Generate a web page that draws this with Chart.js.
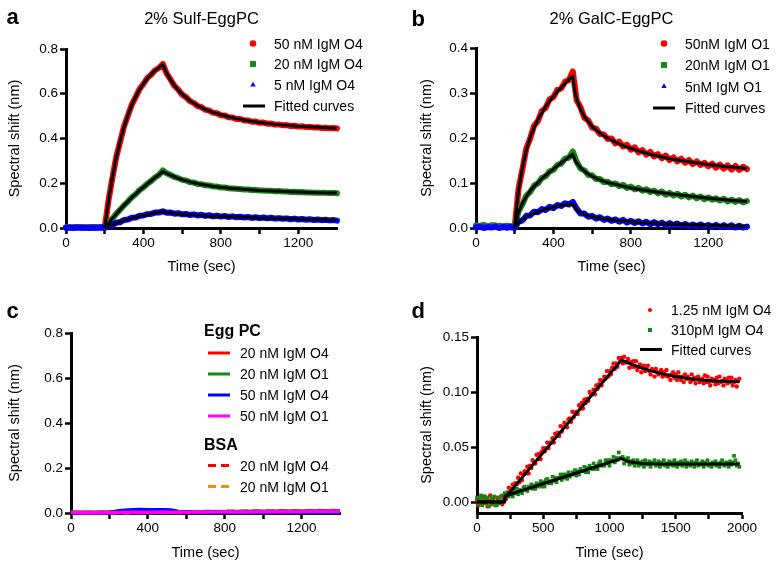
<!DOCTYPE html>
<html><head><meta charset="utf-8">
<script src="https://cdn.jsdelivr.net/npm/chart.js@4.4.0/dist/chart.umd.min.js"></script>
<style>
html,body{margin:0;padding:0;background:#fff;width:779px;height:567px;overflow:hidden}
canvas{position:absolute}
</style></head><body>
<canvas id="ca"></canvas><canvas id="cb"></canvas><canvas id="cc"></canvas><canvas id="cd"></canvas>
<script>
// ---------- time bases (sec) ----------
const timeAB = [0,20,40,60,80,100,120,140,160,180,200,220,240,260,280,300,320,340,360,380,400,420,440,460,480,500,520,540,560,580,600,620,640,660,680,700,720,740,760,780,800,820,840,860,880,900,920,940,960,980,1000,1020,1040,1060,1080,1100,1120,1140,1160,1180,1200,1220,1240,1260,1280,1300,1320,1340,1360,1380,1400];
const timeC = [0,40,80,120,160,200,240,280,320,360,400,440,480,520,560,600,640,680,720,760,800,840,880,920,960,1000,1040,1080,1120,1160,1200,1240,1280,1320,1360,1400];
const timeD = [0,10,20,30,40,50,60,70,80,90,100,110,120,130,140,150,160,170,180,190,200,
 210,220,230,240,250,260,270,280,290,300,310,320,330,340,350,360,370,380,390,400,
 410,420,430,440,450,460,470,480,490,500,510,520,530,540,550,560,570,580,590,600,
 610,620,630,640,650,660,670,680,690,700,710,720,730,740,750,760,770,780,790,800,
 810,820,830,840,850,860,870,880,890,900,910,920,930,940,950,960,970,980,990,1000,
 1010,1020,1030,1040,1050,1060,1070,1080,1090,1100,1110,1120,1130,1140,1150,1160,1170,1180,1190,1200,
 1210,1220,1230,1240,1250,1260,1270,1280,1290,1300,1310,1320,1330,1340,1350,1360,1370,1380,1390,1400,
 1410,1420,1430,1440,1450,1460,1470,1480,1490,1500,1510,1520,1530,1540,1550,1560,1570,1580,1590,1600,
 1610,1620,1630,1640,1650,1660,1670,1680,1690,1700,1710,1720,1730,1740,1750,1760,1770,1780,1790,1800,
 1810,1820,1830,1840,1850,1860,1870,1880,1890,1900,1910,1920,1930,1940,1950,1960,1970,1980];

// ---------- panel a: 2% Sulf-EggPC ----------
const labelsA = ['50 nM IgM O4','20 nM IgM O4','5 nM IgM O4','Fitted curves'];
const a50 = [0.003,0.001,0.004,0.002,0.003,0.001,0.004,0.002,0.003,0.002,
 0.001,0.126,0.226,0.318,0.387,0.455,0.503,0.552,0.585,0.621,
 0.644,0.670,0.685,0.705,0.715,0.733,0.690,0.664,0.635,0.618,
 0.596,0.585,0.567,0.559,0.545,0.540,0.528,0.525,0.515,0.513,
 0.504,0.503,0.495,0.494,0.487,0.487,0.481,0.481,0.475,0.476,
 0.470,0.471,0.466,0.467,0.462,0.463,0.459,0.460,0.456,0.457,
 0.453,0.455,0.451,0.452,0.449,0.450,0.447,0.448,0.446,0.447,0.445];
const a20 = [0.002,0.003,0.001,0.002,0.003,0.002,0.001,0.003,0.002,0.002,
 0.001,0.023,0.042,0.064,0.082,0.102,0.118,0.137,0.151,0.169,
 0.182,0.198,0.210,0.226,0.237,0.257,0.245,0.237,0.228,0.223,
 0.215,0.212,0.205,0.203,0.197,0.196,0.191,0.190,0.186,0.185,
 0.181,0.181,0.178,0.177,0.175,0.174,0.172,0.172,0.170,0.170,
 0.168,0.168,0.166,0.166,0.164,0.165,0.163,0.163,0.161,0.162,
 0.160,0.161,0.159,0.159,0.158,0.158,0.157,0.157,0.156,0.157,0.155];
const a5 = [0.001,0.002,0.000,0.003,0.001,0.002,0.000,0.002,0.001,0.003,
 0.001,0.010,0.013,0.024,0.026,0.036,0.038,0.046,0.047,0.055,
 0.056,0.062,0.063,0.069,0.069,0.075,0.068,0.069,0.064,0.066,
 0.061,0.063,0.058,0.061,0.056,0.059,0.054,0.057,0.052,0.055,
 0.051,0.054,0.049,0.052,0.048,0.050,0.047,0.049,0.045,0.048,
 0.044,0.047,0.043,0.046,0.042,0.044,0.041,0.043,0.039,0.042,
 0.038,0.040,0.037,0.039,0.036,0.038,0.035,0.037,0.034,0.036,0.033];
const fitTimeA = [200,220,240,260,280,300,320,340,360,380,400,420,440,460,480,500,520,540,560,580,600,640,680,720,760,800,850,900,950,1000,1100,1200,1300,1400];
const fitA50 = [0,0.124,0.228,0.316,0.389,0.452,0.505,0.550,0.587,0.619,0.646,0.668,0.687,0.703,0.717,0.730,0.692,0.662,0.637,0.616,0.598,0.569,0.547,0.530,0.517,0.506,0.495,0.486,0.478,0.472,0.462,0.455,0.450,0.446];
const fitA20 = [0,0.022,0.043,0.063,0.083,0.101,0.119,0.136,0.152,0.168,0.183,0.197,0.211,0.225,0.238,0.252,0.244,0.236,0.229,0.222,0.216,0.206,0.198,0.192,0.186,0.182,0.178,0.174,0.171,0.168,0.164,0.161,0.158,0.156];
const fitA5 = [0,0.008,0.015,0.022,0.028,0.034,0.039,0.044,0.049,0.053,0.057,0.060,0.064,0.067,0.070,0.072,0.069,0.067,0.065,0.063,0.062,0.059,0.057,0.055,0.053,0.052,0.050,0.048,0.047,0.045,0.043,0.040,0.037,0.035];

// ---------- panel b: 2% GalC-EggPC ----------
const labelsB = ['50nM IgM O1','20nM IgM O1','5nM IgM O1','Fitted curves'];
const b50 = [0.002,0.005,0.001,0.004,0.006,0.002,0.005,0.003,0.001,0.004,
 0.003,0.088,0.131,0.177,0.199,0.227,0.238,0.260,0.267,0.286,
 0.291,0.307,0.310,0.325,0.329,0.348,0.284,0.268,0.245,0.239,
 0.223,0.221,0.209,0.208,0.198,0.199,0.188,0.192,0.181,0.185,
 0.174,0.179,0.168,0.173,0.163,0.169,0.159,0.164,0.155,0.161,
 0.151,0.157,0.148,0.154,0.145,0.151,0.142,0.148,0.140,0.145,
 0.137,0.143,0.134,0.141,0.132,0.139,0.130,0.138,0.129,0.136,0.131];
const b20 = [0.006,0.004,0.007,0.003,0.005,0.006,0.002,0.004,0.005,0.003,
 0.004,0.037,0.053,0.072,0.080,0.094,0.099,0.111,0.115,0.126,
 0.129,0.140,0.143,0.154,0.156,0.170,0.147,0.132,0.128,0.118,
 0.117,0.109,0.109,0.102,0.103,0.097,0.099,0.093,0.096,0.089,
 0.092,0.086,0.089,0.083,0.086,0.080,0.083,0.077,0.081,0.074,
 0.078,0.072,0.076,0.070,0.074,0.068,0.072,0.066,0.070,0.064,
 0.068,0.063,0.066,0.061,0.065,0.059,0.063,0.058,0.062,0.057,0.060];
const b5 = [0.001,0.003,0.000,0.002,0.001,0.003,0.000,0.002,0.001,0.002,
 0.000,0.014,0.017,0.027,0.028,0.036,0.035,0.042,0.040,0.047,
 0.044,0.051,0.049,0.055,0.052,0.058,0.043,0.032,0.032,0.025,
 0.027,0.021,0.024,0.018,0.021,0.016,0.019,0.014,0.018,0.012,
 0.016,0.011,0.015,0.010,0.014,0.008,0.013,0.008,0.012,0.006,
 0.011,0.006,0.010,0.005,0.009,0.004,0.008,0.004,0.008,0.003,
 0.007,0.003,0.007,0.002,0.006,0.002,0.006,0.001,0.005,0.001,0.003];
const fitTimeB = [200,210,220,240,260,280,300,320,340,360,380,400,420,440,460,480,500,510,520,540,560,580,600,640,680,720,760,800,850,900,950,1000,1100,1200,1300,1400];
const fitB50 = [0,0.048,0.085,0.135,0.173,0.201,0.223,0.241,0.256,0.270,0.282,0.293,0.303,0.312,0.321,0.330,0.338,0.305,0.287,0.264,0.248,0.236,0.226,0.211,0.200,0.191,0.183,0.177,0.170,0.164,0.159,0.154,0.147,0.141,0.136,0.132];
const fitB20 = [0,0.020,0.035,0.055,0.070,0.082,0.092,0.101,0.109,0.117,0.124,0.131,0.138,0.145,0.151,0.158,0.164,0.152,0.145,0.134,0.126,0.120,0.115,0.107,0.101,0.097,0.093,0.089,0.085,0.082,0.079,0.076,0.071,0.066,0.062,0.059];
const fitB5 = [0,0.007,0.012,0.019,0.025,0.029,0.033,0.036,0.039,0.042,0.044,0.046,0.048,0.050,0.051,0.052,0.053,0.046,0.041,0.034,0.030,0.027,0.025,0.022,0.019,0.017,0.015,0.014,0.012,0.011,0.010,0.009,0.007,0.006,0.005,0.004];

// ---------- panel c: controls ----------
const labelsC = ['20 nM IgM O4','20 nM IgM O1','50 nM IgM O4','50 nM IgM O1','20 nM IgM O4','20 nM IgM O1'];
const cEgg20O4 = [0.002,0.003,0.002,0.003,0.002,0.003,0.004,0.003,0.004,0.003,0.004,0.003,0.004,0.005,0.004,0.005,0.004,0.006,0.005,0.006,0.005,0.006,0.007,0.006,0.007,0.006,0.007,0.008,0.007,0.008,0.007,0.008,0.009,0.008,0.009,0.008];
const cEgg20O1 = [0.003,0.002,0.003,0.002,0.003,0.004,0.003,0.004,0.005,0.004,0.005,0.004,0.005,0.006,0.005,0.006,0.005,0.006,0.007,0.006,0.007,0.006,0.007,0.008,0.007,0.008,0.007,0.008,0.009,0.008,0.009,0.008,0.009,0.010,0.009,0.010];
const cEgg50O4 = [0.001,0.000,0.001,0.000,0.001,0.001,0.009,0.012,0.014,0.015,0.014,0.015,0.015,0.013,0.007,0.005,0.004,0.005,0.004,0.004,0.003,0.004,0.003,0.004,0.003,0.002,0.003,0.004,0.003,0.002,0.003,0.004,0.003,0.003,0.004,0.003];
const cEgg50O1 = [0.002,0.001,0.002,0.001,0.002,0.001,0.002,0.003,0.002,0.003,0.002,0.003,0.004,0.003,0.004,0.003,0.004,0.005,0.004,0.005,0.006,0.005,0.006,0.005,0.006,0.007,0.006,0.007,0.006,0.007,0.006,0.007,0.008,0.007,0.008,0.007];
const cBsa20O4 = [0.001,0.002,0.001,0.002,0.003,0.002,0.003,0.002,0.003,0.004,0.003,0.004,0.003,0.004,0.005,0.004,0.005,0.006,0.007,0.006,0.007,0.008,0.007,0.008,0.009,0.008,0.009,0.010,0.009,0.010,0.009,0.010,0.011,0.010,0.011,0.010];
const cBsa20O1 = [0.002,0.001,0.002,0.001,0.002,0.001,0.002,0.001,0.002,0.003,0.002,0.003,0.002,0.003,0.002,0.003,0.004,0.003,0.004,0.003,0.004,0.003,0.004,0.005,0.004,0.005,0.004,0.005,0.004,0.005,0.006,0.005,0.006,0.005,0.006,0.005];

// ---------- panel d: low concentrations (10 s sampling) ----------
const labelsD = ['1.25 nM IgM O4','310pM IgM O4','Fitted curves'];
const d125 = [0.002,-0.003,0.004,0.001,-0.002,0.005,-0.001,0.003,-0.004,0.001,0.006,-0.002,0.003,0.000,-0.003,0.004,0.002,-0.001,0.005,-0.002,0.002,
 0.007,0.003,0.008,0.013,0.008,0.012,0.016,0.011,0.017,0.016,0.022,0.018,0.026,0.020,0.025,0.028,0.026,0.032,0.026,0.033,
 0.031,0.038,0.036,0.035,0.043,0.039,0.044,0.039,0.046,0.049,0.046,0.049,0.054,0.049,0.054,0.054,0.058,0.054,0.062,0.060,
 0.063,0.060,0.069,0.064,0.068,0.072,0.069,0.068,0.075,0.076,0.073,0.082,0.077,0.081,0.082,0.080,0.088,0.085,0.090,0.085,
 0.093,0.090,0.094,0.092,0.100,0.098,0.098,0.102,0.098,0.106,0.103,0.107,0.111,0.106,0.110,0.114,0.112,0.119,0.114,0.119,
 0.116,0.122,0.126,0.121,0.126,0.123,0.131,0.129,0.131,0.126,0.132,0.127,0.127,0.130,0.122,0.127,0.123,0.128,0.123,0.128,
 0.120,0.123,0.125,0.118,0.123,0.124,0.119,0.121,0.124,0.119,0.116,0.121,0.120,0.114,0.121,0.118,0.116,0.118,0.120,0.114,
 0.118,0.115,0.120,0.114,0.115,0.111,0.116,0.118,0.113,0.116,0.111,0.118,0.114,0.111,0.114,0.109,0.116,0.112,0.114,0.112,
 0.109,0.116,0.111,0.113,0.108,0.113,0.114,0.109,0.111,0.112,0.108,0.115,0.109,0.114,0.109,0.106,0.112,0.110,0.111,0.107,
 0.113,0.108,0.114,0.109,0.110,0.106,0.112,0.111,0.108,0.113,0.109,0.113,0.106,0.109,0.111,0.105,0.110,0.112];
const d310 = [0.004,-0.002,0.003,0.006,-0.003,0.002,0.005,-0.001,0.004,-0.004,0.001,0.003,-0.002,0.005,0.000,-0.003,0.004,0.001,-0.001,0.006,0.001,
 0.008,0.005,0.009,0.005,0.007,0.009,0.005,0.010,0.008,0.012,0.007,0.011,0.010,0.008,0.013,0.014,0.011,0.010,0.014,0.013,
 0.016,0.012,0.015,0.012,0.017,0.014,0.016,0.019,0.014,0.018,0.014,0.020,0.021,0.017,0.019,0.017,0.023,0.019,0.022,0.018,
 0.022,0.022,0.025,0.020,0.025,0.022,0.025,0.021,0.027,0.023,0.025,0.027,0.025,0.029,0.024,0.028,0.025,0.030,0.028,0.028,
 0.032,0.027,0.031,0.027,0.033,0.031,0.030,0.035,0.030,0.033,0.030,0.035,0.037,0.033,0.034,0.033,0.038,0.035,0.038,0.033,
 0.038,0.037,0.041,0.036,0.040,0.038,0.045,0.040,0.040,0.041,0.035,0.039,0.037,0.040,0.034,0.037,0.035,0.038,0.033,0.036,
 0.038,0.033,0.036,0.034,0.037,0.032,0.038,0.035,0.034,0.037,0.032,0.036,0.035,0.038,0.033,0.035,0.037,0.032,0.036,0.034,
 0.038,0.033,0.035,0.032,0.037,0.034,0.036,0.033,0.038,0.035,0.032,0.036,0.034,0.037,0.033,0.035,0.038,0.032,0.036,0.034,
 0.033,0.037,0.035,0.032,0.036,0.038,0.033,0.035,0.034,0.037,0.032,0.036,0.034,0.038,0.033,0.035,0.032,0.036,0.034,0.037,
 0.033,0.035,0.032,0.036,0.038,0.034,0.033,0.036,0.035,0.032,0.037,0.034,0.036,0.042,0.038,0.033,0.035,0.032];
const fitTimeD = [0,208,212,1090,1120,1150,1200,1250,1300,1400,1500,1600,1700,1800,1900,1980];
const fitD125 = [0,0,0.004,0.129,0.1275,0.126,0.1237,0.1216,0.1197,0.1165,0.1140,0.1122,0.1108,0.1100,0.1095,0.1093];
const fitD310 = [0,0,0.0055,0.0395,0.0378,0.0365,0.0356,0.0351,0.0348,0.0346,0.0345,0.0345,0.0345,0.0345,0.0345,0.0345];

// ---------- axis ticks ----------
const xTicks1400 = [0,200,400,600,800,1000,1200];
const xLabels1400 = ['0','','400','','800','','1200'];
const xTicks2000 = [0,250,500,750,1000,1250,1500,1750,2000];
const xLabels2000 = ['0','','500','','1000','','1500','','2000'];
const yTicks08 = [0,0.2,0.4,0.6,0.8];
const yLabels08 = ['0.0','0.2','0.4','0.6','0.8'];
const yTicks04 = [0,0.1,0.2,0.3,0.4];
const yLabels04 = ['0.0','0.1','0.2','0.3','0.4'];
const yTicksD = [0,0.05,0.10,0.15];
const yLabelsD = ['0.00','0.05','0.10','0.15'];

// ---------- rendering ----------
const FONT = '"Liberation Sans", Arial, Helvetica, sans-serif';
Chart.defaults.font.family = FONT;
Chart.defaults.color = '#000';
const RED = '#ff0000', GREEN = '#128a12', BLUE = '#0000ff', MAG = '#ff00ff', ORANGE = '#ff8a00', BLACK = '#000000';
const pts = (t, v) => v.map((y, i) => ({x: t[i], y}));

function dataDs(label, t, v, color, style, order, opt) {
  return Object.assign({label, data: pts(t, v), legendKind: 'point', showLine: true,
    borderColor: color, backgroundColor: color, borderWidth: 6, borderJoinStyle: 'round', borderCapStyle: 'round',
    pointStyle: style, pointRadius: 2, pointBackgroundColor: color, pointBorderColor: color, pointBorderWidth: 0,
    tension: 0, order, clip: false, fill: false}, opt || {});
}
function fitDs(label, t, v) {
  return {label, data: pts(t, v), legendKind: label ? 'line' : null, showLine: true,
    borderColor: BLACK, backgroundColor: BLACK, borderWidth: 3, borderJoinStyle: 'round', borderCapStyle: 'butt',
    pointRadius: 0, tension: 0, order: 0, clip: false, fill: false};
}
function lineDs(label, t, v, color, dash, order) {
  return {label, data: pts(t, v), legendKind: 'line', showLine: true, borderColor: color, backgroundColor: color,
    borderWidth: 3.5, borderDash: dash, borderCapStyle: 'butt', pointRadius: 0, tension: 0, order, clip: false, fill: false};
}

const DECOR = {};
const decor = {
  id: 'decor',
  afterDraw(chart) {
    const o = DECOR[chart.canvas.id]; if (!o) return;
    const ctx = chart.ctx, ox = o.box[0], oy = o.box[1];
    ctx.save();
    ctx.fillStyle = '#000';
    ctx.textBaseline = 'alphabetic';
    ctx.textAlign = 'left';
    ctx.font = 'bold 22px ' + FONT;
    ctx.fillText(o.letter, o.letterPos[0] - ox, o.letterPos[1] - oy);
    if (o.title) {
      ctx.font = '16.5px ' + FONT; ctx.textAlign = 'center';
      ctx.fillText(o.title, o.titlePos[0] - ox, o.titlePos[1] - oy);
    }
    ctx.textAlign = 'left';
    o.rows.forEach(r => {
      const y = r.y - oy;
      if (r.header) {
        ctx.font = 'bold 16px ' + FONT; ctx.fillStyle = '#000';
        ctx.fillText(r.header, o.headerX - ox, y + 5.7);
        return;
      }
      const ds = chart.data.datasets[r.ds];
      if (ds.legendKind === 'point') {
        ctx.fillStyle = ds.pointBackgroundColor;
        Chart.helpers.drawPoint(ctx, {pointStyle: ds.pointStyle, radius: r.r, rotation: 0, borderWidth: 0}, o.markX - ox, y);
      } else {
        ctx.strokeStyle = ds.borderColor; ctx.lineWidth = 3;
        ctx.setLineDash(ds.borderDash || []);
        ctx.beginPath(); ctx.moveTo(o.lineX[0] - ox, y); ctx.lineTo(o.lineX[1] - ox, y); ctx.stroke();
        ctx.setLineDash([]);
      }
      ctx.font = '14px ' + FONT; ctx.fillStyle = '#000';
      ctx.fillText(ds.label, o.textX - ox, y + 5);
    });
    ctx.restore();
  }
};

function axis(c, horiz, size) {
  return {
    type: 'linear', position: horiz ? 'bottom' : 'left', min: c.min, max: c.max,
    afterBuildTicks: s => { s.ticks = c.ticks.map(v => ({value: v})); },
    afterFit: s => { if (horiz) s.height = size; else s.width = size; },
    ticks: {autoSkip: false, maxRotation: 0, minRotation: 0, color: '#000', font: {size: 13.5}, padding: horiz ? 1 : 2,
      callback: (v, i) => c.labels[i]},
    grid: {drawOnChartArea: false, drawTicks: true, tickLength: 6, tickWidth: 2.5, tickColor: '#000'},
    border: {display: true, color: '#000', width: 3},
    title: {display: true, text: c.title, color: '#000', font: {size: 14.5, lineHeight: 1.2}, padding: 0}
  };
}

function build(id, box, area, yTitleX, xTitleY, xc, yc, datasets, dec) {
  const half = 14.5 * 1.2 / 2;
  const cv = document.getElementById(id);
  cv.width = box[2]; cv.height = box[3];
  cv.style.left = box[0] + 'px'; cv.style.top = box[1] + 'px';
  const pad = {left: (yTitleX - half) - box[0], right: box[0] + box[2] - area[2], top: area[1] - box[1], bottom: box[1] + box[3] - (xTitleY + half)};
  dec.box = box; DECOR[id] = dec;
  new Chart(cv, {
    type: 'line', data: {datasets},
    options: {responsive: false, animation: false, devicePixelRatio: 1, events: [],
      layout: {padding: pad},
      plugins: {legend: {display: false}, tooltip: {enabled: false}},
      scales: {x: axis(xc, true, (xTitleY + half) - area[3]), y: axis(yc, false, area[0] - (yTitleX - half))}},
    plugins: [decor]
  });
}

// panel a
build('ca', [0, 0, 390, 280], [66, 49, 337, 228], 15, 266.5,
  {min: 0, max: 1400, ticks: xTicks1400, labels: xLabels1400, title: 'Time (sec)'},
  {min: 0, max: 0.8, ticks: yTicks08, labels: yLabels08, title: 'Spectral shift (nm)'},
  [dataDs(labelsA[0], timeAB, a50, RED, 'circle', 3),
   dataDs(labelsA[1], timeAB, a20, GREEN, 'rect', 2),
   dataDs(labelsA[2], timeAB, a5, BLUE, 'triangle', 1),
   fitDs(labelsA[3], fitTimeA, fitA50), fitDs(null, fitTimeA, fitA20), fitDs(null, fitTimeA, fitA5)],
  {letter: 'a', letterPos: [6.5, 23.5], title: '2% Sulf-EggPC', titlePos: [201.5, 24], markX: 253, lineX: [243, 265], textX: 274,
   rows: [{ds: 0, y: 43.5, r: 3.3}, {ds: 1, y: 64, r: 4.2}, {ds: 2, y: 85, r: 3.2}, {ds: 3, y: 106}]});

// panel b
build('cb', [390, 0, 389, 280], [476, 48, 747, 228], 427, 266.5,
  {min: 0, max: 1400, ticks: xTicks1400, labels: xLabels1400, title: 'Time (sec)'},
  {min: 0, max: 0.4, ticks: yTicks04, labels: yLabels04, title: 'Spectral shift (nm)'},
  [dataDs(labelsB[0], timeAB, b50, RED, 'circle', 3, {pointRadius: 2.5}),
   dataDs(labelsB[1], timeAB, b20, GREEN, 'rect', 2, {pointRadius: 2.5}),
   dataDs(labelsB[2], timeAB, b5, BLUE, 'triangle', 1, {pointRadius: 2.5}),
   fitDs(labelsB[3], fitTimeB, fitB50), fitDs(null, fitTimeB, fitB20), fitDs(null, fitTimeB, fitB5)],
  {letter: 'b', letterPos: [411.5, 25.5], title: '2% GalC-EggPC', titlePos: [611.5, 24], markX: 664, lineX: [653, 675], textX: 685,
   rows: [{ds: 0, y: 43.5, r: 3.3}, {ds: 1, y: 65, r: 4.2}, {ds: 2, y: 86.5, r: 3.2}, {ds: 3, y: 108}]});

// panel c
build('cc', [0, 280, 390, 287], [71, 333, 340, 513], 15, 553,
  {min: 0, max: 1400, ticks: xTicks1400, labels: xLabels1400, title: 'Time (sec)'},
  {min: 0, max: 0.8, ticks: yTicks08, labels: yLabels08, title: 'Spectral shift (nm)'},
  [lineDs(labelsC[0], timeC, cEgg20O4, RED, [], 3),
   lineDs(labelsC[1], timeC, cEgg20O1, GREEN, [], 4),
   lineDs(labelsC[2], timeC, cEgg50O4, BLUE, [], 2),
   lineDs(labelsC[3], timeC, cEgg50O1, MAG, [], 1),
   lineDs(labelsC[4], timeC, cBsa20O4, RED, [8, 5], 5),
   lineDs(labelsC[5], timeC, cBsa20O1, ORANGE, [8, 5], 6)],
  {letter: 'c', letterPos: [6.5, 317.5], title: null, headerX: 204, markX: 219, lineX: [208, 230], textX: 240,
   rows: [{header: 'Egg PC', y: 330.5}, {ds: 0, y: 353}, {ds: 1, y: 374}, {ds: 2, y: 395}, {ds: 3, y: 416},
          {header: 'BSA', y: 444.5}, {ds: 4, y: 465.5}, {ds: 5, y: 486.5}]});

// panel d
build('cd', [390, 280, 389, 287], [477, 337, 742, 513], 427, 553,
  {min: 0, max: 2000, ticks: xTicks2000, labels: xLabels2000, title: 'Time (sec)'},
  {min: -0.01, max: 0.15, ticks: yTicksD, labels: yLabelsD, title: 'Spectral shift (nm)'},
  [dataDs(labelsD[0], timeD, d125, RED, 'circle', 2, {showLine: false, pointRadius: 2.2}),
   dataDs(labelsD[1], timeD, d310, GREEN, 'rect', 1, {showLine: false, pointRadius: 2.6}),
   fitDs(labelsD[2], fitTimeD, fitD125), fitDs(null, fitTimeD, fitD310)],
  {letter: 'd', letterPos: [411.5, 318], title: null, markX: 650, lineX: [640, 662], textX: 671,
   rows: [{ds: 0, y: 310, r: 2}, {ds: 1, y: 330, r: 2.8}, {ds: 2, y: 349.5}]});
</script>
</body></html>
